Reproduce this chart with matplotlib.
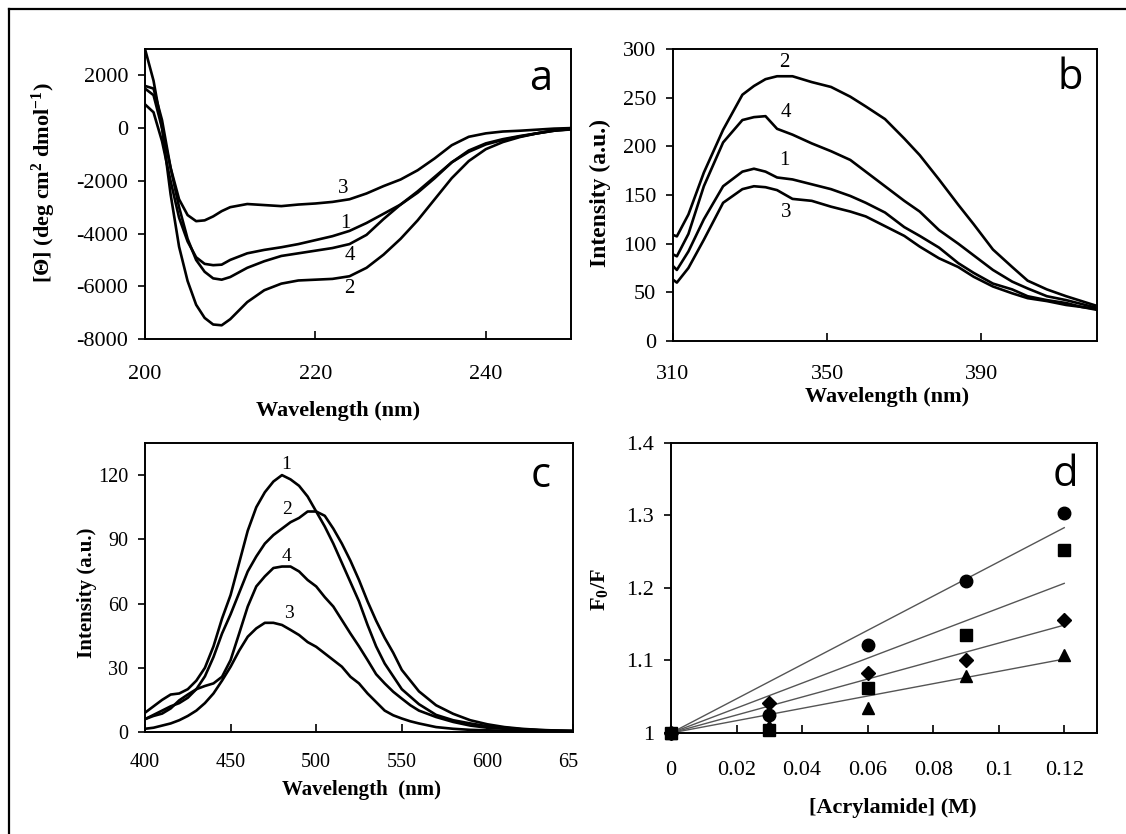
import numpy as np
import matplotlib.pyplot as plt
from matplotlib.lines import Line2D
from matplotlib.transforms import Bbox

plt.rcParams['font.family'] = ['Liberation Serif', 'DejaVu Serif']
plt.rcParams['mathtext.fontset'] = 'custom'
plt.rcParams['mathtext.rm'] = 'Liberation Serif'
plt.rcParams['mathtext.it'] = 'Liberation Serif:italic'
plt.rcParams['mathtext.bf'] = 'Liberation Serif:bold'
plt.rcParams['axes.unicode_minus'] = False

# ---------------------------------------------------------------------------
# Panel a: espectros CD
# ---------------------------------------------------------------------------
cd_x = [200, 201, 202, 203, 204, 205, 206, 207, 208, 209, 210, 212, 214, 216,
        218, 220, 222, 224, 226, 228, 230, 232, 234, 236, 238, 240, 242, 244,
        246, 248, 250]
cd_1 = [900, 600, -500, -2000, -3400, -4300, -4900, -5150, -5200, -5180, -5000,
        -4750, -4620, -4520, -4400, -4250, -4100, -3900, -3600, -3250, -2900,
        -2450, -1900, -1300, -850, -580, -420, -300, -200, -100, -50]
cd_2 = [3000, 1800, 0, -2500, -4500, -5800, -6700, -7200, -7450, -7480, -7250,
        -6600, -6150, -5900, -5780, -5750, -5720, -5620, -5300, -4800, -4200,
        -3500, -2700, -1900, -1250, -800, -530, -340, -200, -80, 0]
cd_3 = [1500, 1250, 0, -1500, -2700, -3300, -3530, -3500, -3350, -3150, -3000,
        -2880, -2920, -2960, -2900, -2860, -2800, -2700, -2480, -2200, -1950,
        -1600, -1150, -650, -330, -200, -130, -100, -60, -20, 0]
cd_4 = [1600, 1500, 300, -1500, -3000, -4200, -5000, -5450, -5700, -5750, -5650,
        -5300, -5050, -4850, -4750, -4650, -4550, -4400, -4050, -3450, -2900,
        -2400, -1850, -1300, -900, -620, -450, -320, -200, -100, -40]
cd_etiquetas = ['1', '2', '3', '4']
cd_etq_x = [223.5, 224, 223.3, 224]
cd_etq_y = [-3600, -6100, -2300, -4850]

# ---------------------------------------------------------------------------
# Panel b: fluorescencia intrinseca
# ---------------------------------------------------------------------------
fb_x = [310, 311, 314, 318, 323, 328, 331, 334, 337, 341, 346, 351, 356, 360,
        365, 370, 374, 379, 384, 388, 393, 398, 402, 407, 412, 416, 420]
fb_1 = [77, 73, 92, 125, 159, 174, 177, 174, 168, 166, 161, 156, 149, 142,
        132, 117, 108, 96, 80, 70, 59, 53, 46, 42, 39, 35, 33]
fb_2 = [109, 107.5, 130, 173, 217, 253, 262, 269, 272, 272, 266, 261, 251, 241,
        228, 208, 191, 166, 140, 120, 94, 76, 62, 53, 46, 41, 36]
fb_3 = [63, 60, 75, 104, 142, 156, 159, 158, 155, 146, 144, 138, 133, 128,
        118, 108, 97, 85, 76, 66, 56, 49, 44, 41, 37, 35, 32]
fb_4 = [89, 87, 110, 159, 204, 227, 230, 231, 218, 212, 203, 195, 186, 174,
        159, 144, 133, 114, 100, 88, 73, 61, 54, 46, 42, 38, 34]
fb_etq_x = [338.8, 338.8, 339.3, 339.3]
fb_etq_y = [185, 286, 132, 235]

# ---------------------------------------------------------------------------
# Panel c: fluorescencia ANS
# ---------------------------------------------------------------------------
fc_x = [400, 405, 410, 415, 420, 425, 430, 435, 440, 445, 450, 455, 460, 465,
        470, 475, 480, 485, 490, 495, 500, 505, 510, 515, 520, 525, 530, 535,
        540, 545, 550, 555, 560, 570, 580, 590, 600, 610, 620, 630, 640, 650]
fc_1 = [9, 12, 15, 17.5, 18, 20, 24, 30, 40, 53, 64, 79, 94, 105, 112, 117, 120,
        118, 115, 110, 103, 96, 88, 79, 70, 61, 50, 40, 32, 26, 20, 16.5, 13,
        8, 5.5, 4, 2.7, 2, 1.3, 0.9, 0.6, 0.4]
fc_2 = [6, 8, 10, 12, 13.5, 16, 20, 26, 35, 46, 55, 65, 75, 82, 88, 92, 95, 98,
        100, 103, 103, 101, 95, 88, 80, 71, 61, 52, 44, 37, 29, 24, 19,
        12.5, 8.5, 5.5, 3.6, 2.3, 1.5, 1, 0.7, 0.5]
fc_3 = [1.5, 2, 3, 4, 5.5, 7.5, 10, 13.5, 18, 24, 30.5, 38, 44.5, 48.4, 51, 51,
        50, 47.7, 45.3, 42, 39.8, 36.7, 33.6, 30.5, 25.8, 22.7, 18, 14, 10,
        7.8, 6.3, 5, 4, 2.3, 1.5, 1, 0.8, 0.6, 0.5, 0.4, 0.3, 0.3]
fc_4 = [6, 7.5, 8.6, 11, 14.8, 17.5, 20, 21.5, 22.7, 25.8, 33.6, 46, 58.6, 68,
        72.7, 76.6, 77.3, 77.3, 75, 71, 68, 63, 58.6, 52.3, 46, 40, 33.6, 27,
        22.7, 18.8, 15.6, 12.5, 10, 7, 4.7, 3, 2, 1.5, 1.2, 0.8, 0.6, 0.5]
fc_etq_x = [482.7, 482.7, 484.2, 482.7]
fc_etq_y = [125, 104, 55.5, 82]

# ---------------------------------------------------------------------------
# Panel d: Stern-Volmer
# ---------------------------------------------------------------------------
acr = [0, 0.03, 0.06, 0.09, 0.12]
sv_circulo = [1.0, 1.025, 1.122, 1.209, 1.304]
sv_cuadro = [1.0, 1.004, 1.062, 1.135, 1.253]
sv_rombo = [1.0, 1.042, 1.083, 1.101, 1.156]
sv_triangulo = [1.0, 1.01, 1.035, 1.078, 1.107]
ksv = [2.36, 1.72, 1.24, 0.85]   # pendientes de los ajustes lineales
acr_ajuste = [0, 0.12]


def estilo_ejes(ax, xlim, ylim, xticks, yticks, tam, xpad, xlabels=None, ylabels=None):
    ax.set_xlim(*xlim)
    ax.set_ylim(*ylim)
    ax.set_xticks(xticks)
    ax.set_yticks(yticks)
    if xlabels is not None:
        ax.set_xticklabels(xlabels)
    if ylabels is not None:
        ax.set_yticklabels(ylabels)
    ax.tick_params(axis='x', direction='in', length=6, width=1.2, pad=xpad, labelsize=tam)
    ax.tick_params(axis='y', direction='out', length=5, width=1.2, pad=7, labelsize=tam)
    for s in ax.spines.values():
        s.set_linewidth(1.4)


fig = plt.figure(figsize=(11.26, 8.34), dpi=100)

# marco exterior (solo izquierda y arriba visibles)
fig.add_artist(Line2D([9 / 1126, 9 / 1126], [0, 1 - 9 / 834], transform=fig.transFigure,
                      color='black', lw=1.6))
fig.add_artist(Line2D([9 / 1126, 1], [1 - 9 / 834, 1 - 9 / 834], transform=fig.transFigure,
                      color='black', lw=1.6))

letra = dict(family=['Open Sans', 'DejaVu Sans'], fontsize=30, ha='center', va='center')
bold = dict(fontweight='bold', ha='center', va='center')

# ---- a ----
ax_a = fig.add_axes([145 / 1126, 1 - 339 / 834, 426 / 1126, 290 / 834])
for y in [cd_1, cd_2, cd_3, cd_4]:
    ax_a.plot(cd_x, y, color='black', lw=1.9)
for t, x, y in zip(cd_etiquetas, cd_etq_x, cd_etq_y):
    ax_a.text(x, y, t, fontsize=15, ha='center', va='center')
estilo_ejes(ax_a, (200, 250), (-8000, 3000), [200, 220, 240],
            [-8000, -6000, -4000, -2000, 0, 2000], 16, 19)
ax_a.text(0.93, 0.895, 'a', transform=ax_a.transAxes, **letra)
ax_a.text(-0.237, 0.54, r'[$\mathbf{\Theta}$] (deg cm$^{\mathbf{2}}$ dmol$^{\mathbf{-1}}$)',
          transform=ax_a.transAxes, rotation=90, fontsize=16, **bold)
ax_a.text(0.453, -0.248, 'Wavelength (nm)', transform=ax_a.transAxes, fontsize=16, **bold)

# ---- b ----
ax_b = fig.add_axes([673 / 1126, 1 - 341 / 834, 424 / 1126, 292 / 834])
for y in [fb_1, fb_2, fb_3, fb_4]:
    ax_b.plot(fb_x, y, color='black', lw=1.9)
for t, x, y in zip(cd_etiquetas, fb_etq_x, fb_etq_y):
    ax_b.text(x, y, t, fontsize=15, ha='center', va='center')
estilo_ejes(ax_b, (310, 420), (0, 300), [310, 350, 390],
            [0, 50, 100, 150, 200, 250, 300], 16, 17)
ax_b.text(0.937, 0.9, 'b', transform=ax_b.transAxes, **letra)
ax_b.text(-0.172, 0.507, 'Intensity (a.u.)', transform=ax_b.transAxes, rotation=90,
          fontsize=17, **bold)
ax_b.text(0.505, -0.192, 'Wavelength (nm)', transform=ax_b.transAxes, fontsize=16, **bold)

# ---- c ----
ax_c = fig.add_axes([145 / 1126, 1 - 732 / 834, 428 / 1126, 289 / 834])
for y in [fc_1, fc_2, fc_3, fc_4]:
    ax_c.plot(fc_x, y, color='black', lw=1.9)
for t, x, y in zip(cd_etiquetas, fc_etq_x, fc_etq_y):
    ax_c.text(x, y, t, fontsize=14, ha='center', va='center')
estilo_ejes(ax_c, (400, 650), (0, 135), [400, 450, 500, 550, 600, 650],
            [0, 30, 60, 90, 120], 14.5, 15)
ax_c.text(0.925, 0.885, 'c', transform=ax_c.transAxes, **letra)
ax_c.text(-0.136, 0.481, 'Intensity (a.u.)', transform=ax_c.transAxes, rotation=90,
          fontsize=15, **bold)
ax_c.text(0.507, -0.2, 'Wavelength  (nm)', transform=ax_c.transAxes, fontsize=15, **bold)
recorte = Bbox.from_extents(0, 0, 578, 834)
for tick in ax_c.xaxis.get_major_ticks():
    tick.label1.set_clip_box(recorte)
    tick.label1.set_clip_on(True)

# ---- d ----
ax_d = fig.add_axes([671 / 1126, 1 - 733 / 834, 426 / 1126, 290 / 834])
for k in ksv:
    ax_d.plot(acr_ajuste, [1 + k * a for a in acr_ajuste], color='#555555', lw=1.0)
ax_d.plot(acr, sv_circulo, 'o', color='black', ms=9, clip_on=False)
ax_d.plot(acr, sv_rombo, 'D', color='black', ms=7, clip_on=False)
ax_d.plot(acr, sv_triangulo, '^', color='black', ms=9, clip_on=False)
ax_d.plot(acr, sv_cuadro, 's', color='black', ms=9, clip_on=False)
estilo_ejes(ax_d, (0, 0.13), (1, 1.4), [0, 0.02, 0.04, 0.06, 0.08, 0.1, 0.12],
            [1, 1.1, 1.2, 1.3, 1.4], 16, 20,
            xlabels=['0', '0.02', '0.04', '0.06', '0.08', '0.1', '0.12'],
            ylabels=['1', '1.1', '1.2', '1.3', '1.4'])
ax_d.text(0.925, 0.89, 'd', transform=ax_d.transAxes, **letra)
ax_d.text(-0.167, 0.493, r'F$_{\mathbf{0}}$/F', transform=ax_d.transAxes, rotation=90,
          fontsize=16, **bold)
ax_d.text(0.521, -0.259, '[Acrylamide] (M)', transform=ax_d.transAxes, fontsize=16, **bold)

plt.savefig('out.png', dpi=100)
